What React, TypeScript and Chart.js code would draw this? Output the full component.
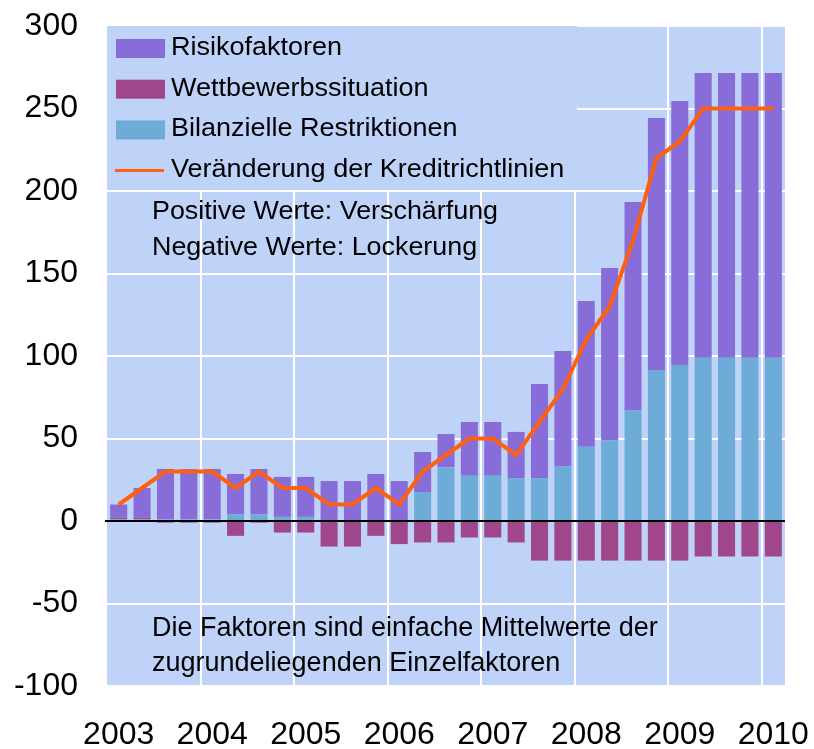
import React, { useEffect, useRef } from 'react';
import { Chart, registerables } from 'chart.js';

Chart.register(...registerables);

const categories = [
  '2003 Q1', '2003 Q2', '2003 Q3', '2003 Q4',
  '2004 Q1', '2004 Q2', '2004 Q3', '2004 Q4',
  '2005 Q1', '2005 Q2', '2005 Q3', '2005 Q4',
  '2006 Q1', '2006 Q2', '2006 Q3', '2006 Q4',
  '2007 Q1', '2007 Q2', '2007 Q3', '2007 Q4',
  '2008 Q1', '2008 Q2', '2008 Q3', '2008 Q4',
  '2009 Q1', '2009 Q2', '2009 Q3', '2009 Q4',
  '2010 Q1',
];

const risikofaktoren = [8, 18, 30.5, 30.5, 30.5, 24.5, 27.5, 24.2, 24.2, 24.2, 24.2, 28.5, 24.2, 24.3, 20.2, 32.5, 32.5, 28, 57, 70, 88.3, 104.3, 126.3, 152.7, 160, 172.5, 172.5, 172.5, 172.5];
const wettbewerbssituation = [1, 1, -1, -1, -1, -9, -1, -7, -7, -15.5, -15.5, -9, -14, -13, -13, -10, -10, -13, -24, -24, -24, -24, -24, -24, -24, -21.5, -21.5, -21.5, -21.5];
const bilanzielleRestriktionen = [1, 1, 1, 1, 1, 4, 4, 2.5, 2.5, 0, 0, 0, 0, 17.5, 32.5, 27.5, 27.5, 26, 26, 33, 45, 49, 67, 91.5, 94.5, 99, 99, 99, 99];
const kreditrichtlinien = [10, 20, 30, 30, 30, 20, 30, 20, 20, 10, 10, 20, 10, 30, 40, 50, 50, 40, 60, 80, 110, 130, 170, 220, 230, 250, 250, 250, 250];

const yMin = -100;
const yMax = 300;
const yStep = 50;

const noteTop = ['Positive Werte: Verschärfung', 'Negative Werte: Lockerung'];
const noteBottom = ['Die Faktoren sind einfache Mittelwerte der', 'zugrundeliegenden Einzelfaktoren'];

const COLORS = {
  bg: '#bfd3f8',
  risiko: '#886cd8',
  wett: '#a0468a',
  bilanz: '#6eacd8',
  line: '#ff6010',
};

const FONT = "'Liberation Sans', Arial, sans-serif";

function stretchText(ctx: CanvasRenderingContext2D, text: string, x: number, y: number, sx: number) {
  ctx.save();
  ctx.translate(x, y);
  ctx.scale(sx, 1);
  ctx.fillText(text, 0, 0);
  ctx.restore();
}

function zeroPadding(s: any) {
  s.paddingTop = 0;
  s.paddingBottom = 0;
  s.paddingLeft = 0;
  s.paddingRight = 0;
}

const overlayPlugin = {
  id: 'overlay',
  beforeDraw(chart: any) {
    const { ctx, chartArea } = chart;
    ctx.save();
    ctx.fillStyle = COLORS.bg;
    ctx.fillRect(chartArea.left, chartArea.top, chartArea.right - chartArea.left, chartArea.bottom - chartArea.top);
    ctx.restore();
  },
  beforeDatasetsDraw(chart: any) {
    const { ctx, chartArea } = chart;
    ctx.save();
    // legend box covering the grid
    ctx.fillStyle = COLORS.bg;
    ctx.fillRect(chartArea.left, chartArea.top, 577 - chartArea.left, 190 - chartArea.top);

    const items = [
      { label: chart.data.datasets[2].label, color: COLORS.risiko, kind: 'box' },
      { label: chart.data.datasets[1].label, color: COLORS.wett, kind: 'box' },
      { label: chart.data.datasets[0].label, color: COLORS.bilanz, kind: 'box' },
      { label: chart.data.datasets[3].label, color: COLORS.line, kind: 'line' },
    ];
    ctx.font = `25px ${FONT}`;
    ctx.textBaseline = 'alphabetic';
    ctx.textAlign = 'left';
    items.forEach((it, i) => {
      const base = 55 + i * 40.7;
      if (it.kind === 'box') {
        ctx.fillStyle = it.color;
        ctx.fillRect(116, base - 16, 49, 19);
      } else {
        ctx.strokeStyle = it.color;
        ctx.lineWidth = 3;
        ctx.beginPath();
        ctx.moveTo(115, base - 6.5);
        ctx.lineTo(164, base - 6.5);
        ctx.stroke();
      }
      ctx.fillStyle = '#000';
      stretchText(ctx, it.label, 171, base, 1.08);
    });

    ctx.fillStyle = '#000';
    ctx.font = `25px ${FONT}`;
    noteTop.forEach((t, i) => stretchText(ctx, t, 152, 219 + i * 36, 1.075));
    ctx.font = `27px ${FONT}`;
    noteBottom.forEach((t, i) => stretchText(ctx, t, 152, 636 + i * 35, 1.0));
    ctx.restore();
  },
  afterDatasetsDraw(chart: any) {
    const { ctx, chartArea, scales } = chart;
    const y0 = scales.y.getPixelForValue(0);
    ctx.save();
    ctx.strokeStyle = '#000';
    ctx.lineWidth = 2;
    ctx.beginPath();
    ctx.moveTo(chartArea.left - 2, Math.round(y0));
    ctx.lineTo(chartArea.right, Math.round(y0));
    ctx.stroke();
    ctx.restore();
  },
};

export default function App() {
  const canvasRef = useRef<HTMLCanvasElement | null>(null);

  useEffect(() => {
    const canvas = canvasRef.current;
    if (!canvas) return;
    const chart = new Chart(canvas, {
      type: 'bar',
      data: {
        labels: categories,
        datasets: [
          {
            type: 'bar',
            label: 'Bilanzielle Restriktionen',
            data: bilanzielleRestriktionen,
            backgroundColor: COLORS.bilanz,
            stack: 'factors',
            order: 1,
          },
          {
            type: 'bar',
            label: 'Wettbewerbssituation',
            data: wettbewerbssituation,
            backgroundColor: COLORS.wett,
            stack: 'factors',
            order: 1,
          },
          {
            type: 'bar',
            label: 'Risikofaktoren',
            data: risikofaktoren,
            backgroundColor: COLORS.risiko,
            stack: 'factors',
            order: 1,
          },
          {
            type: 'line',
            label: 'Veränderung der Kreditrichtlinien',
            data: kreditrichtlinien,
            borderColor: COLORS.line,
            backgroundColor: COLORS.line,
            borderWidth: 4,
            pointRadius: 0,
            tension: 0,
            fill: false,
            stack: 'line',
            order: 0,
          } as any,
        ],
      },
      options: {
        animation: false,
        responsive: false,
        maintainAspectRatio: false,
        devicePixelRatio: 1,
        layout: { padding: { top: 26, right: 29, left: 0, bottom: 0 } },
        datasets: {
          bar: { barPercentage: 0.73, categoryPercentage: 1.0 },
        },
        plugins: {
          legend: { display: false },
          tooltip: { enabled: false },
          title: { display: false },
        },
        scales: {
          x: {
            stacked: true,
            border: { display: false },
            grid: {
              offset: true,
              drawTicks: false,
              lineWidth: 2,
              color: (c: any) => (c.index > 0 && c.index < categories.length && c.index % 4 === 0 ? '#ffffff' : 'rgba(0,0,0,0)'),
            },
            ticks: {
              autoSkip: false,
              maxRotation: 0,
              minRotation: 0,
              padding: 30,
              color: '#000',
              font: { family: FONT, size: 32 },
              callback: (_v: any, i: number) => (i % 4 === 0 ? categories[i].slice(0, 4) : ''),
            },
            afterFit: (s: any) => { s.height = 63; zeroPadding(s); },
          },
          y: {
            stacked: true,
            min: yMin,
            max: yMax,
            border: { display: false },
            grid: {
              drawTicks: false,
              lineWidth: 2,
              color: (c: any) => (c.tick && c.tick.value === 0 ? 'rgba(0,0,0,0)' : '#ffffff'),
            },
            ticks: {
              stepSize: yStep,
              padding: 29,
              color: '#000',
              font: { family: FONT, size: 32 },
            },
            afterFit: (s: any) => { s.width = 107; zeroPadding(s); },
          },
        },
      },
      plugins: [overlayPlugin],
    });
    return () => chart.destroy();
  }, []);

  return (
    <div style={{ position: 'absolute', left: 0, top: 0, width: 814, height: 749, background: '#fff' }}>
      <canvas ref={canvasRef} width={814} height={749} style={{ display: 'block', width: 814, height: 749 }} />
    </div>
  );
}
